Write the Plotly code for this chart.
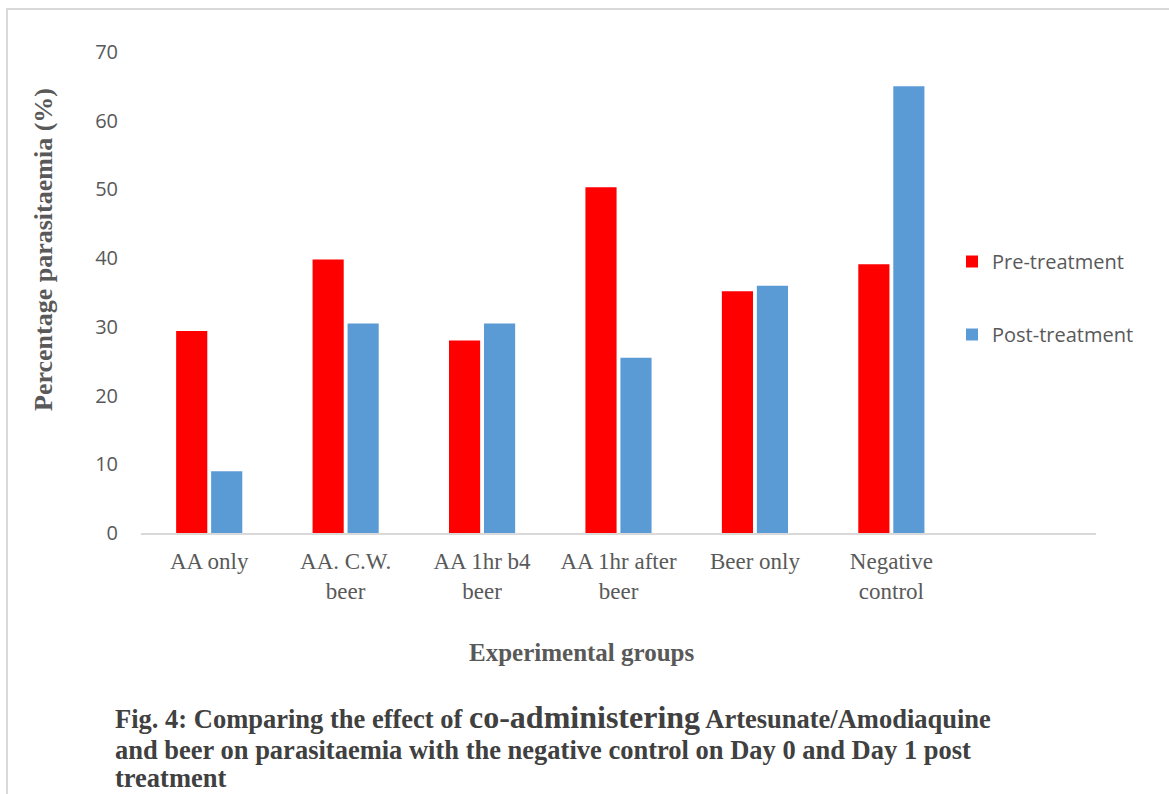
import plotly.graph_objects as go

# Experimental groups and parasitaemia (%) before and after treatment
groups = ["AA only", "AA. C.W.<br>beer", "AA 1hr b4<br>beer", "AA 1hr after<br>beer",
          "Beer only", "Negative<br>control"]
pre_treatment = [29.4, 39.8, 28.0, 50.3, 35.2, 39.1]
post_treatment = [9.0, 30.5, 30.5, 25.5, 36.0, 65.0]
y_ticks = [0, 10, 20, 30, 40, 50, 60, 70]

W, H = 1169, 794
L, R, T, B = 141, 1096, 52, 533   # plot area in pixels


def px(x):
    return (x - L) / (R - L)


def py(y):
    return (B - y) / (B - T)


SERIF = "Liberation Serif, Times New Roman, serif"
SANS = "Open Sans, Noto Sans, sans-serif"
GREY = "#595959"

fig = go.Figure()
fig.add_trace(go.Bar(name="Pre-treatment", x=groups, y=pre_treatment,
                     marker=dict(color="#FF0000", line=dict(width=0)),
                     legendgroup="a"))
fig.add_trace(go.Bar(name="Post-treatment", x=groups, y=post_treatment,
                     marker=dict(color="#5B9BD5", line=dict(width=0)),
                     legendgroup="b"))

fig.update_layout(
    width=W, height=H,
    margin=dict(l=L, r=W - R, t=T, b=H - B, autoexpand=False),
    paper_bgcolor="white", plot_bgcolor="white",
    barmode="group", bargap=0.487, bargroupgap=0.11,
    showlegend=True,
    legend=dict(x=px(952), y=py(242), xanchor="left", yanchor="top",
                font=dict(family=SANS, size=20, color=GREY),
                traceorder="grouped", tracegroupgap=44,
                bgcolor="rgba(0,0,0,0)"),
    xaxis=dict(type="category", categoryorder="array", categoryarray=groups,
               range=[-0.5, 6.5], showgrid=False, zeroline=False,
               showline=True, linecolor="#D9D9D9", linewidth=2,
               ticks="", tickfont=dict(family=SERIF, size=23, color=GREY),
               ticklabelstandoff=6, fixedrange=True),
    yaxis=dict(range=[0, 70], tickvals=y_ticks, showgrid=False, zeroline=False,
               showline=False, ticks="",
               tickfont=dict(family=SANS, size=20, color=GREY),
               ticklabelstandoff=22, fixedrange=True),
)

# Axis titles
fig.add_annotation(text="<b>Percentage parasitaemia (%)</b>", textangle=-90,
                   xref="paper", yref="paper", x=px(43), y=py(250),
                   xanchor="center", yanchor="middle", showarrow=False,
                   font=dict(family=SERIF, size=26, color=GREY))
fig.add_annotation(text="<b>Experimental groups</b>",
                   xref="paper", yref="paper", x=px(582), y=py(652),
                   xanchor="center", yanchor="middle", showarrow=False,
                   font=dict(family=SERIF, size=25, color=GREY))

# Figure caption
CAP = "#404040"
caption = [
    "<b>Fig. 4: Comparing the effect of <span style='font-size:32px'>co-administering</span>"
    " Artesunate/Amodiaquine</b>",
    "<b>and beer on parasitaemia with the negative control on Day 0 and Day 1 post</b>",
    "<b>treatment</b>",
]
for line, yc in zip(caption, [717, 750, 778]):
    fig.add_annotation(text=line, xref="paper", yref="paper", x=px(113), y=py(yc),
                       xanchor="left", yanchor="middle", showarrow=False,
                       font=dict(family=SERIF, size=26.5, color=CAP))

# Light frame around the chart
fig.add_shape(type="rect", xref="paper", yref="paper",
              x0=px(7), x1=px(1190), y0=py(820), y1=py(9),
              line=dict(color="#D9D9D9", width=2), fillcolor="rgba(0,0,0,0)",
              layer="below")

fig.write_html("out.html")
